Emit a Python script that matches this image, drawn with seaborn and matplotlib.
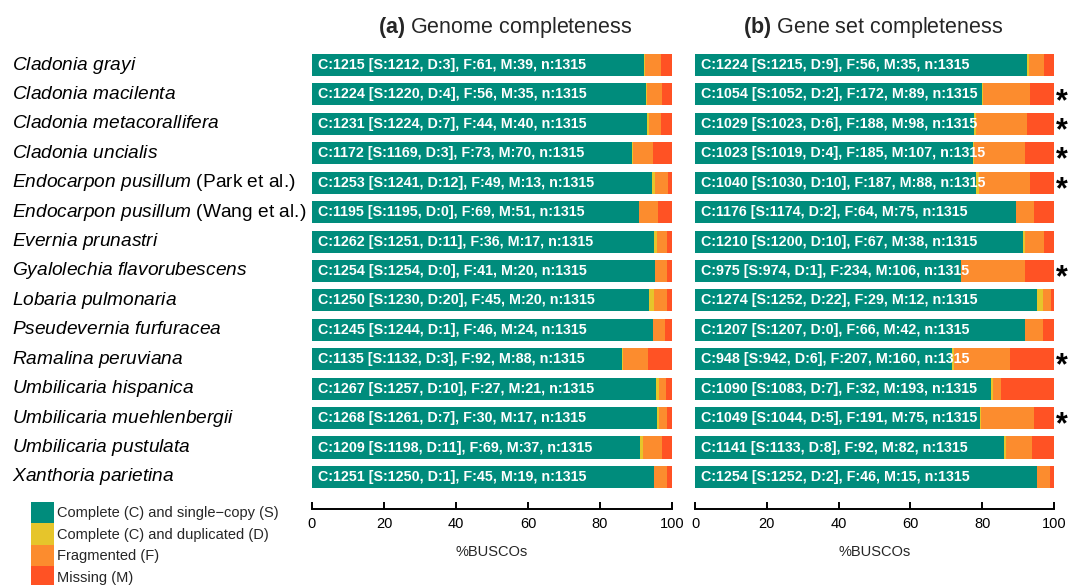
import matplotlib
matplotlib.use('Agg')
import matplotlib.pyplot as plt
from matplotlib.patches import Patch
import pandas as pd
import seaborn as sns

# Noms des espèces (partie en italique) et suffixe en romain
species = ['Cladonia grayi', 'Cladonia macilenta', 'Cladonia metacorallifera', 'Cladonia uncialis',
           'Endocarpon pusillum', 'Endocarpon pusillum', 'Evernia prunastri',
           'Gyalolechia flavorubescens', 'Lobaria pulmonaria', 'Pseudevernia furfuracea',
           'Ramalina peruviana', 'Umbilicaria hispanica', 'Umbilicaria muehlenbergii',
           'Umbilicaria pustulata', 'Xanthoria parietina']
suffix = ['', '', '', '', '(Park et al.)', '(Wang et al.)', '', '', '', '', '', '', '', '', '']

n_total = 1315

# (a) génome
genome_S = [1212, 1220, 1224, 1169, 1241, 1195, 1251, 1254, 1230, 1244, 1132, 1257, 1261, 1198, 1250]
genome_D = [3, 4, 7, 3, 12, 0, 11, 0, 20, 1, 3, 10, 7, 11, 1]
genome_F = [61, 56, 44, 73, 49, 69, 36, 41, 45, 46, 92, 27, 30, 69, 45]
genome_M = [39, 35, 40, 70, 13, 51, 17, 20, 20, 24, 88, 21, 17, 37, 19]

# (b) jeu de gènes
gene_S = [1215, 1052, 1023, 1019, 1030, 1174, 1200, 974, 1252, 1207, 942, 1083, 1044, 1133, 1252]
gene_D = [9, 2, 6, 4, 10, 2, 10, 1, 22, 0, 6, 7, 5, 8, 2]
gene_F = [56, 172, 188, 185, 187, 64, 67, 234, 29, 66, 207, 32, 191, 92, 46]
gene_M = [35, 89, 98, 107, 88, 75, 38, 106, 12, 42, 160, 193, 75, 82, 15]

# Lignes marquées d'un astérisque dans le panneau (b)
starred = [False, True, True, True, True, False, False, True, False, False, True, False, True, False, False]

legend_labels = ['Complete (C) and single\u2212copy (S)', 'Complete (C) and duplicated (D)',
                 'Fragmented (F)', 'Missing (M)']
colors = ['#008C7C', '#E6C52B', '#FC8C2E', '#FF5224']

sns.set_style('white')
plt.rcParams['font.family'] = ['Liberation Sans', 'DejaVu Sans']
plt.rcParams['mathtext.fontset'] = 'custom'
plt.rcParams['mathtext.rm'] = 'Liberation Sans'
plt.rcParams['mathtext.it'] = 'Liberation Sans:italic'
plt.rcParams['mathtext.bf'] = 'Liberation Sans:bold'

W, H = 1070, 585
fig = plt.figure(figsize=(W / 100, H / 100), dpi=100)
bottom = 1 - 509 / H
height = (509 - 50.3) / H
ax_a = fig.add_axes([312 / W, bottom, 360 / W, height])
ax_b = fig.add_axes([695 / W, bottom, 359 / W, height])

row_keys = [f'{s} {x}'.strip() for s, x in zip(species, suffix)]


def draw_panel(ax, S, D, F, M):
    df = pd.DataFrame({'row': row_keys, 'S': S, 'D': D, 'F': F, 'M': M})
    pct = lambda v: v / n_total * 100
    df['l_S'] = pct(df['S'])
    df['l_SD'] = pct(df['S'] + df['D'])
    df['l_SDF'] = pct(df['S'] + df['D'] + df['F'])
    df['l_tot'] = pct(df['S'] + df['D'] + df['F'] + df['M'])

    # Barres empilées : on dessine les cumuls du plus long au plus court
    for col, color in [('l_tot', colors[3]), ('l_SDF', colors[2]), ('l_SD', colors[1]), ('l_S', colors[0])]:
        sns.barplot(data=df, x=col, y='row', order=row_keys, orient='h', color=color,
                    saturation=1, width=0.75, edgecolor='none', linewidth=0, ax=ax)

    for i, r in df.iterrows():
        C = r['S'] + r['D']
        txt = f"C:{C} [S:{r['S']}, D:{r['D']}], F:{r['F']}, M:{r['M']}, n:{n_total}"
        ax.text(1.7, i, txt, va='center', ha='left', color='white', fontweight='bold', fontsize=10.3)

    ax.set_xlim(0, 100)
    ax.set_ylim(15.09, -0.5)
    ax.set_yticks([])
    ax.set_ylabel('')
    ax.set_xticks([0, 20, 40, 60, 80, 100])
    ax.set_xlabel('%BUSCOs', fontsize=10.5, labelpad=10)
    ax.tick_params(axis='x', bottom=True, direction='in', length=5, width=1.4,
                   colors='black', labelsize=10.5, pad=6)
    sns.despine(ax=ax, left=True)
    ax.spines['bottom'].set_color('black')
    ax.spines['bottom'].set_linewidth(1.4)


draw_panel(ax_a, genome_S, genome_D, genome_F, genome_M)
draw_panel(ax_b, gene_S, gene_D, gene_F, gene_M)

# Noms des espèces à gauche
trans_a = ax_a.get_yaxis_transform()
for i, (s, x) in enumerate(zip(species, suffix)):
    label = r'$\mathit{' + s.replace(' ', r'\ ') + '}$'
    if x:
        label += ' ' + x
    ax_a.text((12 - 312) / 360, i, label, transform=trans_a, ha='left', va='center',
              fontsize=13.8, color='black')

# Astérisques
trans_b = ax_b.get_yaxis_transform()
for i, st in enumerate(starred):
    if st:
        ax_b.text(1.021, i + 0.25, '*', transform=trans_b, ha='center', va='center',
                  fontsize=22, fontweight='bold', color='black')

# Titres
fig.text(505 / W, 1 - 27 / H, r'$\mathbf{(a)}$ Genome completeness', ha='center', va='center', fontsize=15.5)
fig.text(873 / W, 1 - 27 / H, r'$\mathbf{(b)}$ Gene set completeness', ha='center', va='center', fontsize=15.5)

# Légende
handles = [Patch(facecolor=c, edgecolor='none') for c in colors]
fig.legend(handles, legend_labels, loc='upper left', bbox_to_anchor=(31 / W, 1 - 502 / H),
           frameon=False, fontsize=10.5, handlelength=1.55, handleheight=1.89, labelspacing=0,
           handletextpad=0.25, borderpad=0, borderaxespad=0)

fig.savefig('out.png', dpi=100)
